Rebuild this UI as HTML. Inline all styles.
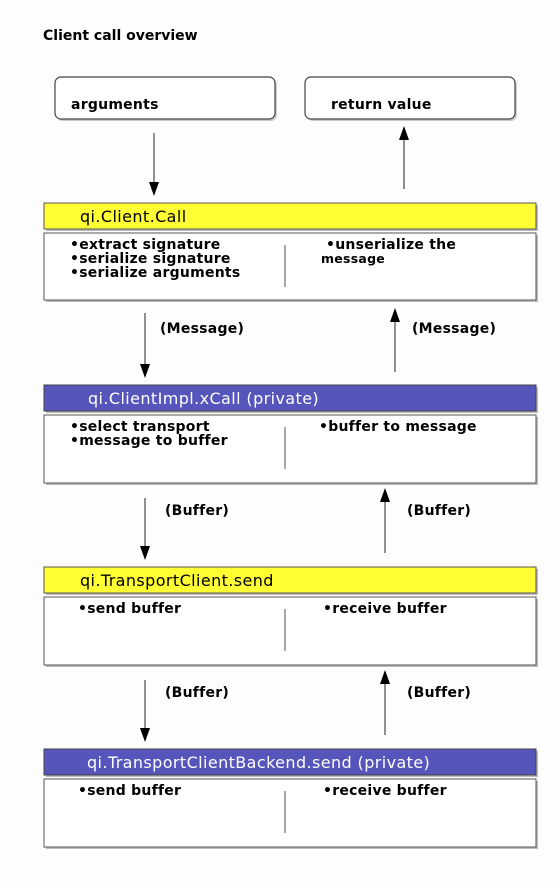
<!DOCTYPE html>
<html><head><meta charset="utf-8"><style>
html,body{margin:0;padding:0;background:#fff;}
svg text{font-family:"DejaVu Sans","Liberation Sans",sans-serif;}
.b{font-weight:bold;font-size:14px;fill:#000;letter-spacing:0.25px;}
.h{font-size:16px;letter-spacing:0.4px;}
</style></head><body>
<svg width="560" height="882" viewBox="0 0 560 882" xmlns="http://www.w3.org/2000/svg">
<rect width="560" height="882" fill="#fdfdfd"/>
<text x="43" y="40" class="b" style="letter-spacing:0">Client call overview</text>

<rect x="57" y="79" width="220" height="42" rx="6" fill="#ccc"/>
<rect x="55" y="77" width="220" height="42" rx="6" fill="#fff" stroke="#444" stroke-width="1.2"/>
<text x="71" y="109" class="b">arguments</text>
<rect x="307" y="79" width="210" height="42" rx="6" fill="#ccc"/>
<rect x="305" y="77" width="210" height="42" rx="6" fill="#fff" stroke="#444" stroke-width="1.2"/>
<text x="331" y="109" class="b">return value</text>

<line x1="154" y1="133" x2="154" y2="183" stroke="#555" stroke-width="1.3"/>
<path d="M149,182 L159,182 L154,196 Z"/>
<line x1="404" y1="189" x2="404" y2="139" stroke="#555" stroke-width="1.3"/>
<path d="M399,140 L409,140 L404,126 Z"/>

<rect x="46" y="205" width="492" height="26" fill="#bbb"/>
<rect x="44" y="203" width="492" height="26" fill="#ffff33" stroke="#555" stroke-width="1"/>
<text x="80" y="222" class="h" fill="#000">qi.Client.Call</text>
<rect x="46" y="235" width="492" height="67" fill="#bbb"/>
<rect x="44" y="233" width="492" height="67" fill="#fff" stroke="#555" stroke-width="1"/>
<line x1="285" y1="245" x2="285" y2="287" stroke="#777" stroke-width="1.3"/>
<text x="70" y="249" class="b">•extract signature</text>
<text x="70" y="263" class="b">•serialize signature</text>
<text x="70" y="277" class="b">•serialize arguments</text>
<text x="326" y="249" class="b">•unserialize the</text>
<text x="321" y="263" class="b" style="font-size:12.5px">message</text>

<line x1="145" y1="313" x2="145" y2="365" stroke="#555" stroke-width="1.3"/>
<path d="M140,364 L150,364 L145,378 Z"/>
<text x="160" y="333" class="b">(Message)</text>
<line x1="395" y1="372" x2="395" y2="321" stroke="#555" stroke-width="1.3"/>
<path d="M390,322 L400,322 L395,308 Z"/>
<text x="412" y="333" class="b">(Message)</text>

<rect x="46" y="387" width="492" height="26" fill="#bbb"/>
<rect x="44" y="385" width="492" height="26" fill="#5555bb" stroke="#444" stroke-width="1"/>
<text x="88" y="404" class="h" fill="#fff">qi.ClientImpl.xCall (private)</text>
<rect x="46" y="417" width="492" height="68" fill="#bbb"/>
<rect x="44" y="415" width="492" height="68" fill="#fff" stroke="#555" stroke-width="1"/>
<line x1="285" y1="427" x2="285" y2="469" stroke="#777" stroke-width="1.3"/>
<text x="70" y="431" class="b">•select transport</text>
<text x="70" y="445" class="b">•message to buffer</text>
<text x="319" y="431" class="b">•buffer to message</text>

<line x1="145" y1="498" x2="145" y2="547" stroke="#555" stroke-width="1.3"/>
<path d="M140,546 L150,546 L145,560 Z"/>
<text x="165" y="515" class="b">(Buffer)</text>
<line x1="385" y1="553" x2="385" y2="501" stroke="#555" stroke-width="1.3"/>
<path d="M380,502 L390,502 L385,488 Z"/>
<text x="407" y="515" class="b">(Buffer)</text>

<rect x="46" y="569" width="492" height="26" fill="#bbb"/>
<rect x="44" y="567" width="492" height="26" fill="#ffff33" stroke="#555" stroke-width="1"/>
<text x="80" y="586" class="h" fill="#000">qi.TransportClient.send</text>
<rect x="46" y="599" width="492" height="68" fill="#bbb"/>
<rect x="44" y="597" width="492" height="68" fill="#fff" stroke="#555" stroke-width="1"/>
<line x1="285" y1="609" x2="285" y2="651" stroke="#777" stroke-width="1.3"/>
<text x="78" y="613" class="b">•send buffer</text>
<text x="323" y="613" class="b">•receive buffer</text>

<line x1="145" y1="680" x2="145" y2="729" stroke="#555" stroke-width="1.3"/>
<path d="M140,728 L150,728 L145,742 Z"/>
<text x="165" y="697" class="b">(Buffer)</text>
<line x1="385" y1="735" x2="385" y2="683" stroke="#555" stroke-width="1.3"/>
<path d="M380,684 L390,684 L385,670 Z"/>
<text x="407" y="697" class="b">(Buffer)</text>

<rect x="46" y="751" width="492" height="26" fill="#bbb"/>
<rect x="44" y="749" width="492" height="26" fill="#5555bb" stroke="#444" stroke-width="1"/>
<text x="87" y="768" class="h" fill="#fff">qi.TransportClientBackend.send (private)</text>
<rect x="46" y="781" width="492" height="68" fill="#bbb"/>
<rect x="44" y="779" width="492" height="68" fill="#fff" stroke="#555" stroke-width="1"/>
<line x1="285" y1="791" x2="285" y2="833" stroke="#777" stroke-width="1.3"/>
<text x="78" y="795" class="b">•send buffer</text>
<text x="323" y="795" class="b">•receive buffer</text>
</svg>
</body></html>
